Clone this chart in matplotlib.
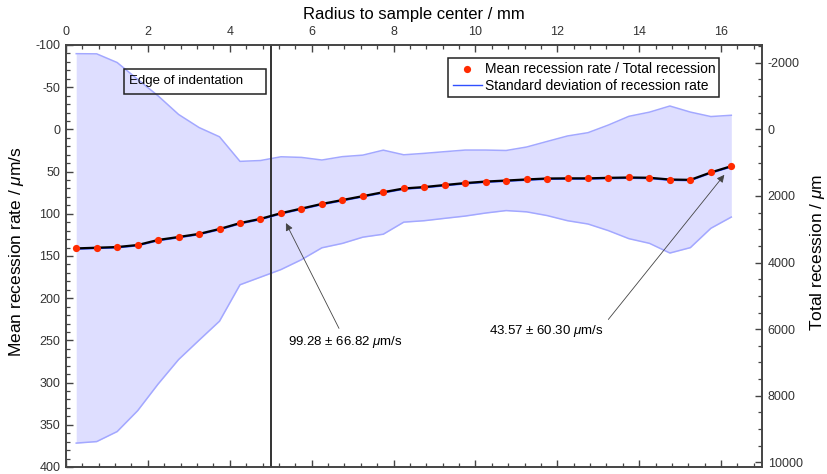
import matplotlib
matplotlib.use("Agg")
import matplotlib.pyplot as plt
import matplotlib.transforms as mtransforms
from matplotlib.lines import Line2D
from matplotlib.patches import Rectangle
from matplotlib.ticker import MultipleLocator
import numpy as np

plt.rcParams['font.family'] = ['Liberation Sans', 'DejaVu Sans']
plt.rcParams['mathtext.fontset'] = 'custom'
plt.rcParams['mathtext.rm'] = 'Liberation Sans'
plt.rcParams['mathtext.it'] = 'Liberation Sans:italic'
plt.rcParams['axes.unicode_minus'] = False

# radial positions of the measurement rings (mm)
radius = [0.25, 0.75, 1.25, 1.75, 2.25, 2.75, 3.25, 3.75, 4.25, 4.75,
          5.25, 5.75, 6.25, 6.75, 7.25, 7.75, 8.25, 8.75, 9.25, 9.75,
          10.25, 10.75, 11.25, 11.75, 12.25, 12.75, 13.25, 13.75, 14.25, 14.75,
          15.25, 15.75, 16.25]

# mean recession rate (um/s)
mean_rate = [141.0, 140.2, 139.4, 137.0, 131.0, 127.5, 123.8, 118.0, 111.0, 106.0,
             99.28, 93.8, 88.3, 83.7, 79.1, 74.4, 70.0, 68.3, 65.9, 63.6,
             61.8, 60.6, 59.3, 58.2, 58.0, 58.0, 57.4, 57.0, 57.3, 59.4,
             59.8, 51.0, 43.57]

# standard deviation of recession rate (um/s)
std_rate = [230.7, 229.7, 218.6, 196.3, 170.7, 145.2, 126.0, 109.2, 73.1, 69.1,
            66.82, 60.6, 52.0, 51.4, 48.6, 49.8, 39.9, 39.9, 39.5, 39.1,
            37.3, 35.6, 38.4, 43.9, 50.2, 54.1, 62.6, 72.5, 77.7, 87.1,
            80.3, 66.2, 60.30]

edge_radius = 5.0
labelled = [10, 32]

r = np.array(radius)
m = np.array(mean_rate)
s = np.array(std_rate)

fig = plt.figure(figsize=(8.28, 4.74), dpi=100)
ax = fig.add_axes([0.0797, 0.0148, 0.8406, 0.8903])
ax2 = ax.twinx()

band_edge = '#a3a8ff'
ax.fill_between(r, m - s, m + s, color='#dedeff', lw=0, zorder=1)
ax.plot(r, m - s, color=band_edge, lw=1.1, zorder=2)
ax.plot(r, m + s, color=band_edge, lw=1.1, zorder=2)

ax.axvline(edge_radius, color='#333333', lw=1.4, zorder=3)

shift = mtransforms.offset_copy(ax.transData, fig=fig, x=0, y=-0.8, units='dots')
ax.plot(r, m, color='#3050ff', lw=1.0, zorder=4, transform=shift)
ax.plot(r, m, color='black', lw=1.6, zorder=5)
ax.plot(r, m, 'o', color='#ff2a00', ms=5.2, mec='none', zorder=6)

# box marking the indentation edge
ax.add_patch(Rectangle((1.41, -71.6), 3.48, 29.7, fill=False, ec='#222222', lw=1.1, zorder=7))
ax.text(1.54, -56.8, 'Edge of indentation', fontsize=9.5, va='center', ha='left', zorder=8)

arrow = dict(arrowstyle='-|>', color='#444444', lw=0.6, shrinkB=8, mutation_scale=11)
i = labelled[0]
ax.annotate(u'%.2f \u00b1 %.2f $\\mu$m/s' % (mean_rate[i], std_rate[i]),
            xy=(radius[i], mean_rate[i]), xytext=(5.43, 251.5),
            fontsize=9.5, va='center', ha='left', arrowprops=arrow, zorder=9)
i = labelled[1]
arrow2 = dict(arrow, relpos=(1.0, 0.85))
ax.annotate(u'%.2f \u00b1 %.2f $\\mu$m/s' % (mean_rate[i], std_rate[i]),
            xy=(radius[i], mean_rate[i]), xytext=(10.34, 238.5),
            fontsize=9.5, va='center', ha='left', arrowprops=arrow2, zorder=9)

ax.set_xlim(0, 17)
ax.set_ylim(400, -100)
ax2.set_ylim(10140, -2535)

ax.xaxis.set_major_locator(MultipleLocator(2))
ax.xaxis.set_minor_locator(MultipleLocator(0.4))
ax.yaxis.set_major_locator(MultipleLocator(50))
ax.yaxis.set_minor_locator(MultipleLocator(10))
ax2.yaxis.set_major_locator(MultipleLocator(2000))
ax2.yaxis.set_minor_locator(MultipleLocator(500))

ax.tick_params(axis='x', which='both', direction='in', top=True, bottom=True,
               labeltop=True, labelbottom=False, colors='#444444', labelcolor='#333333',
               labelsize=9, pad=5)
ax.tick_params(axis='y', which='both', direction='in', left=True, right=False,
               colors='#444444', labelcolor='#333333', labelsize=9, pad=4)
ax2.tick_params(axis='y', which='both', direction='in', right=True, left=False,
                colors='#444444', labelcolor='#333333', labelsize=9, pad=4)
for a in (ax, ax2):
    a.tick_params(which='major', length=5, width=1.0)
    a.tick_params(which='minor', length=3, width=0.9)
    for sp in a.spines.values():
        sp.set_color('#444444')
        sp.set_linewidth(1.2)

ax.xaxis.set_label_position('top')
ax.set_xlabel('Radius to sample center / mm', fontsize=12, labelpad=5)
fig.text(17 / 828, 1 - 252 / 474, 'Mean recession rate / $\\mu$m/s', fontsize=12.5,
         rotation=90, ha='center', va='center')
fig.text(818 / 828, 1 - 252 / 474, 'Total recession / $\\mu$m', fontsize=12.5,
         rotation=90, ha='center', va='center')

handles = [Line2D([], [], ls='none', marker='o', color='#ff2a00', ms=5.2, mec='none'),
           Line2D([], [], color='#3050ff', lw=1.0)]
leg = ax.legend(handles, ['Mean recession rate / Total recession',
                          'Standard deviation of recession rate'],
                loc='upper right', bbox_to_anchor=(0.9387, 0.9685), fontsize=10,
                frameon=True, fancybox=False, framealpha=1, edgecolor='#222222',
                borderpad=0.3, labelspacing=0.15, handlelength=2.1, handletextpad=0.2,
                borderaxespad=0)
leg.get_frame().set_linewidth(1.1)
leg.set_zorder(10)

fig.savefig('out.png', dpi=100)
